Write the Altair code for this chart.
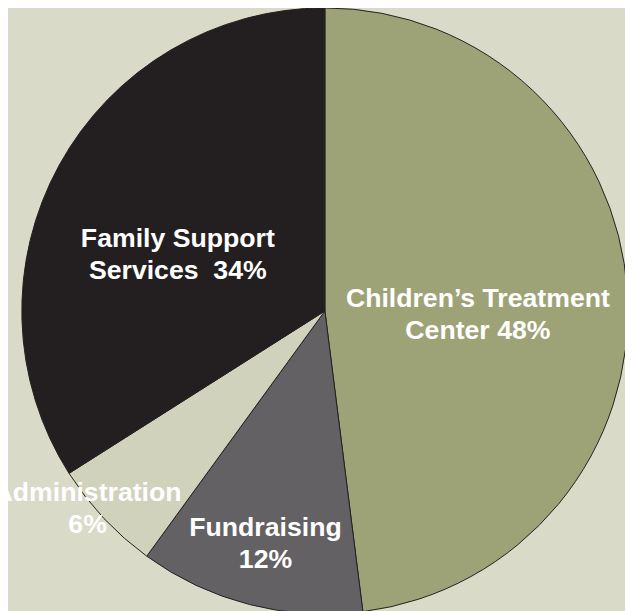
import altair as alt
import pandas as pd

categories = ["Children\u2019s Treatment Center", "Fundraising", "Administration", "Family Support Services"]
values = [48, 12, 6, 34]
labels = [
    ["Children\u2019s Treatment", "Center 48%"],
    ["Fundraising", "12%"],
    ["Administration", "6%"],
    ["Family Support", "Services\u00a0 34%"],
]
colors = ["#9ea377", "#646164", "#d0d2bc", "#231f20"]

df = pd.DataFrame({
    "category": categories,
    "value": values,
    "order": list(range(len(categories))),
    "label": labels,
})

CX, CY, R = 321, 303, 307

base = alt.Chart(df)

pie = base.mark_arc(outerRadius=R, stroke="#231f20", strokeWidth=1).encode(
    theta=alt.Theta("value:Q", stack=True),
    order=alt.Order("order:Q"),
    color=alt.Color("category:N", scale=alt.Scale(domain=categories, range=colors), legend=None),
    x=alt.value(CX),
    y=alt.value(CY),
)

text = base.transform_window(
    cum="sum(value)", sort=[alt.SortField("order")], frame=[None, 0]
).transform_calculate(
    mid="datum.cum - datum.value / 2",
    shift="datum.order == 0 ? 1.25 : datum.order == 2 ? 1.0 : datum.order == 3 ? -2.06 : 0",
    pos="datum.mid + datum.shift",
    r="datum.order == 0 ? 155 : datum.order == 1 ? 242 : datum.order == 2 ? 312 : 160",
).mark_text(
    font="Liberation Sans",
    fontSize=27,
    fontWeight="bold",
    color="white",
    align="center",
    baseline="middle",
    lineHeight=32,
    dy=-14,
).encode(
    theta=alt.Theta("pos:Q", scale=alt.Scale(domain=[0, 100]), stack=False),
    radius=alt.Radius("r:Q", scale=None),
    text="label",
    x=alt.value(CX),
    y=alt.value(CY),
)

chart = alt.layer(pie, text).resolve_scale(theta="independent").properties(
    width=625,
    height=603,
    autosize=alt.AutoSizeParams(type="none"),
    padding=0,
    background="#d9dac8",
).configure_view(stroke=None)

chart.save("out.html", embed_options={"renderer": "svg", "actions": False})
